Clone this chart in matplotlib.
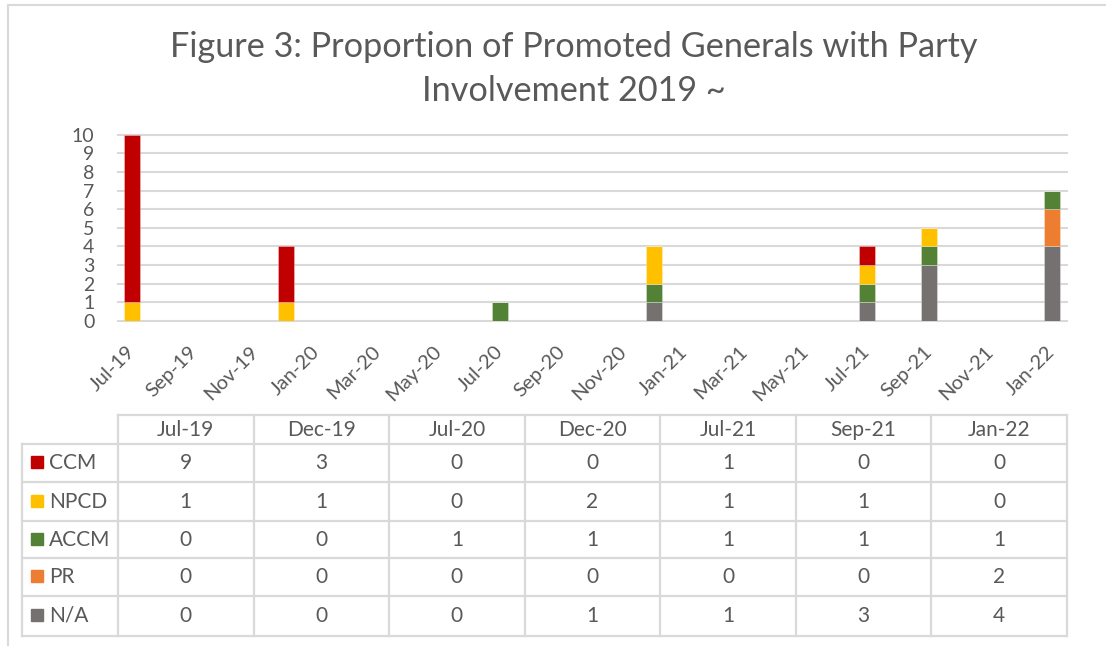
import numpy as np
import matplotlib
matplotlib.use("Agg")
import matplotlib.pyplot as plt
import matplotlib.dates as mdates
from matplotlib.patches import Rectangle

plt.rcParams['font.family'] = ['Lato', 'DejaVu Sans']

dates = np.array(['2019-07-01', '2019-12-01', '2020-07-01', '2020-12-01',
                  '2021-07-01', '2021-09-01', '2022-01-01'], dtype='datetime64[D]')
col_labels = ['Jul-19', 'Dec-19', 'Jul-20', 'Dec-20', 'Jul-21', 'Sep-21', 'Jan-22']
series = ['CCM', 'NPCD', 'ACCM', 'PR', 'N/A']
ccm = [9, 3, 0, 0, 1, 0, 0]
npcd = [1, 1, 0, 2, 1, 1, 0]
accm = [0, 0, 1, 1, 1, 1, 1]
pr = [0, 0, 0, 0, 0, 0, 2]
na = [0, 0, 0, 1, 1, 3, 4]
colors = {'CCM': '#C00000', 'NPCD': '#FFC000', 'ACCM': '#538135',
          'PR': '#ED7D31', 'N/A': '#767171'}
values = {'CCM': ccm, 'NPCD': npcd, 'ACCM': accm, 'PR': pr, 'N/A': na}

txt = '#595959'
grid = '#d9d9d9'
W, H = 1106, 646

fig = plt.figure(figsize=(W / 100, H / 100), dpi=100)

# plot area (pixels -> fractions)
pl, pr_, pt, pb = 118, 1067, 134.7, 321
ax = fig.add_axes([pl / W, 1 - pb / H, (pr_ - pl) / W, (pb - pt) / H])

x = mdates.date2num(dates)
bottom = np.zeros(len(x))
for name in ['N/A', 'PR', 'ACCM', 'NPCD', 'CCM']:
    v = np.array(values[name], dtype=float)
    ax.bar(x, v, width=16, bottom=bottom, color=colors[name],
           edgecolor=(1, 1, 1, 0.35), linewidth=0.6, zorder=3)
    bottom += v

ax.set_xlim(mdates.date2num(np.datetime64('2019-06-17')),
            mdates.date2num(np.datetime64('2022-01-16')))
ax.set_ylim(0, 10)
ax.set_yticks(range(0, 11))
ax.xaxis.set_major_locator(mdates.MonthLocator(bymonth=[1, 3, 5, 7, 9, 11]))
ax.xaxis.set_major_formatter(mdates.DateFormatter('%b-%y'))
ax.tick_params(axis='both', length=0, colors=txt)
ax.tick_params(axis='y', labelsize=14, pad=17)
ax.tick_params(axis='x', labelsize=14.5, pad=20)
for lab in ax.get_xticklabels():
    lab.set_rotation(45)
    lab.set_ha('right')
    lab.set_va('center')
    lab.set_rotation_mode('anchor')
ax.yaxis.grid(True, color=grid, linewidth=1.5, zorder=0)
for gl in ax.get_ygridlines():
    gl.set_clip_on(False)
for s in ax.spines.values():
    s.set_visible(False)

fig.text(0.519, 1 - 47 / H, 'Figure 3: Proportion of Promoted Generals with Party',
         ha='center', va='center', fontsize=24.7, color=txt)
fig.text(0.519, 1 - 91 / H, 'Involvement 2019 ~',
         ha='center', va='center', fontsize=24.7, color=txt)

# data table below the chart
tax = fig.add_axes([0, 0, 1, 1])
tax.set_xlim(0, W)
tax.set_ylim(H, 0)
tax.axis('off')

edges = np.linspace(pl, pr_, len(col_labels) + 1)
rows = [415, 444, 482, 521, 558, 596, 636]
left = 22
lw = 1.6
tax.plot([pl, pr_], [rows[0], rows[0]], color=grid, lw=lw)
for r in rows[1:]:
    tax.plot([left, pr_], [r, r], color=grid, lw=lw)
tax.plot([left, left], [rows[1], rows[-1]], color=grid, lw=lw)
for e in edges:
    tax.plot([e, e], [rows[0], rows[-1]], color=grid, lw=lw)

for j, lab in enumerate(col_labels):
    tax.text((edges[j] + edges[j + 1]) / 2, (rows[0] + rows[1]) / 2, lab,
             ha='center', va='center', fontsize=15, color=txt)
for i, name in enumerate(series):
    yc = (rows[i + 1] + rows[i + 2]) / 2
    tax.add_patch(Rectangle((31, yc - 7), 12, 12, color=colors[name]))
    tax.text(49, yc, name, ha='left', va='center', fontsize=15, color=txt)
    for j, v in enumerate(values[name]):
        tax.text((edges[j] + edges[j + 1]) / 2, yc, str(v),
                 ha='center', va='center', fontsize=15, color=txt)

# outer chart frame
tax.plot([8, 8], [5, H], color=grid, lw=1.5)
tax.plot([8, W], [5, 5], color=grid, lw=1.5)

fig.savefig('out.png', dpi=100, facecolor='white')
